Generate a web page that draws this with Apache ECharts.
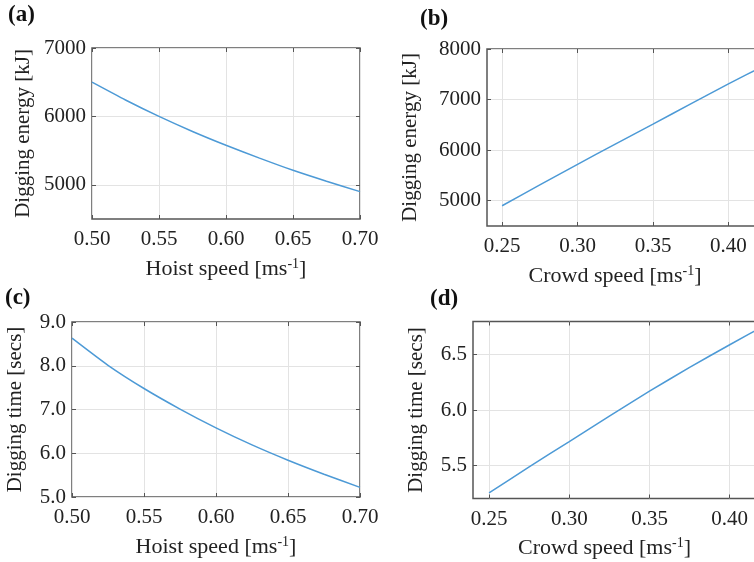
<!DOCTYPE html>
<html>
<head>
<meta charset="utf-8">
<style>
  html, body { margin: 0; padding: 0; background: #fff; }
  #chart { width: 754px; height: 562px; }
</style>
<script src="https://cdn.jsdelivr.net/npm/echarts@6/dist/echarts.min.js"></script>
</head>
<body>
<div id="chart"></div>
<script>
// Hoist-speed sweep (panels a and c)
const hoistSpeed = [0.50, 0.525, 0.55, 0.575, 0.60, 0.625, 0.65, 0.675, 0.70];
const energyVsHoist = [6500, 6240, 6000, 5780, 5578, 5390, 5212, 5052, 4900];
const timeVsHoist = [8.63, 8.01, 7.48, 7.01, 6.58, 6.19, 5.84, 5.52, 5.22];

// Crowd-speed sweep (panels b and d)
const crowdSpeed = [0.25, 0.275, 0.30, 0.325, 0.35, 0.375, 0.40, 0.425];
const energyVsCrowd = [4900, 5313, 5720, 6120, 6515, 6915, 7310, 7690];
const timeVsCrowd = [5.25, 5.485, 5.715, 5.945, 6.17, 6.385, 6.59, 6.79];

// Tick values
const hoistTicks = [0.50, 0.55, 0.60, 0.65, 0.70];
const crowdTicks = [0.25, 0.30, 0.35, 0.40, 0.45];
const energyTicksA = [5000, 6000, 7000];
const energyTicksB = [5000, 6000, 7000, 8000];
const timeTicksC = [5.0, 6.0, 7.0, 8.0, 9.0];
const timeTicksD = [5.5, 6.0, 6.5];

const panelLabels = ['(a)', '(b)', '(c)', '(d)'];
const xTitles = ['Hoist speed [ms', 'Crowd speed [ms', 'Hoist speed [ms', 'Crowd speed [ms'];
const yTitles = ['Digging energy [kJ]', 'Digging energy [kJ]', 'Digging time [secs]', 'Digging time [secs]'];

const FONT = '"Liberation Serif", "Times New Roman", serif';
const TEXT = '#222';
const LINE = '#4d9ad6';
const BOX = '#555';

const chart = echarts.init(document.getElementById('chart'));

// Plot boxes; the two right-hand boxes run past the right edge of the page
const grids = [
  { left: 92, top: 48, width: 268, height: 171 },
  { left: 487, top: 49, width: 332, height: 177 },
  { left: 72, top: 322, width: 288, height: 175 },
  { left: 473, top: 321.5, width: 353, height: 177 }
].map(g => Object.assign({
  show: true, borderColor: BOX, borderWidth: 1.5,
  containLabel: false, outerBoundsMode: 'none'
}, g));

// xShift: extra right padding that moves the x title left of the box centre
const panels = [
  { x: hoistSpeed, y: energyVsHoist, xmin: 0.50, xmax: 0.70, xt: hoistTicks, xd: 2,
    ymin: 4500, ymax: 7000, yt: energyTicksA, yd: 0, yGap: 58, xGap: 38, xShift: 0 },
  { x: crowdSpeed, y: energyVsCrowd, xmin: 0.24, xmax: 0.46, xt: crowdTicks, xd: 2,
    ymin: 4500, ymax: 8000, yt: energyTicksB, yd: 0, yGap: 66, xGap: 38, xShift: 76 },
  { x: hoistSpeed, y: timeVsHoist, xmin: 0.50, xmax: 0.70, xt: hoistTicks, xd: 2,
    ymin: 5.0, ymax: 9.0, yt: timeTicksC, yd: 1, yGap: 46, xGap: 38, xShift: 0 },
  { x: crowdSpeed, y: timeVsCrowd, xmin: 0.24, xmax: 0.46, xt: crowdTicks, xd: 2,
    ymin: 5.2, ymax: 6.8, yt: timeTicksD, yd: 1, yGap: 46, xGap: 38, xShift: 90 }
];

const xAxes = [], yAxes = [], series = [];

panels.forEach((p, i) => {
  const labelStyle = { fontFamily: FONT, fontSize: 21, color: TEXT };
  // bottom x axis with labels and grid lines
  xAxes.push({
    type: 'value', gridIndex: i, position: 'bottom', min: p.xmin, max: p.xmax,
    axisLine: { show: false },
    axisTick: { show: true, inside: true, length: 4, customValues: p.xt, lineStyle: { color: BOX } },
    axisLabel: Object.assign({ margin: 10, customValues: p.xt, hideOverlap: false,
      formatter: v => v.toFixed(p.xd) }, labelStyle),
    splitLine: { show: true, lineStyle: { color: '#e3e3e3', width: 1 } },
    name: '{t|' + xTitles[i] + '}{s|-1}{t|]}',
    nameLocation: 'middle', nameGap: p.xGap,
    nameTextStyle: {
      padding: [0, p.xShift, 0, 0],
      rich: {
        t: { fontFamily: FONT, fontSize: 22, color: TEXT },
        s: { fontFamily: FONT, fontSize: 14, color: TEXT, verticalAlign: 'top', padding: [0, 0, 10, 0] }
      }
    }
  });
  // top x axis: ticks only
  xAxes.push({
    type: 'value', gridIndex: i, position: 'top', min: p.xmin, max: p.xmax,
    axisLine: { show: false },
    axisTick: { show: true, inside: true, length: 4, customValues: p.xt, lineStyle: { color: BOX } },
    axisLabel: { show: false }, splitLine: { show: false }
  });
  // left y axis with labels and grid lines
  yAxes.push({
    type: 'value', gridIndex: i, position: 'left', min: p.ymin, max: p.ymax,
    axisLine: { show: false },
    axisTick: { show: true, inside: true, length: 4, customValues: p.yt, lineStyle: { color: BOX } },
    axisLabel: Object.assign({ margin: 6, customValues: p.yt, hideOverlap: false,
      formatter: v => v.toFixed(p.yd) }, labelStyle),
    splitLine: { show: true, lineStyle: { color: '#e3e3e3', width: 1 } },
    name: yTitles[i], nameLocation: 'middle', nameGap: p.yGap,
    nameTextStyle: { fontFamily: FONT, fontSize: 21, color: TEXT }
  });
  // right y axis: ticks only
  yAxes.push({
    type: 'value', gridIndex: i, position: 'right', min: p.ymin, max: p.ymax,
    axisLine: { show: false },
    axisTick: { show: true, inside: true, length: 4, customValues: p.yt, lineStyle: { color: BOX } },
    axisLabel: { show: false }, splitLine: { show: false }
  });
  series.push({
    type: 'line', xAxisIndex: 2 * i, yAxisIndex: 2 * i,
    data: p.x.map((v, k) => [v, p.y[k]]),
    smooth: 0.2, showSymbol: false, symbol: 'none',
    lineStyle: { color: LINE, width: 1.5 }, silent: true
  });
});

const labelPos = [[8, 4], [420, 8], [5, 287], [430, 288]];

chart.setOption({
  animation: false,
  backgroundColor: '#fff',
  title: panelLabels.map((t, i) => ({
    text: t, left: labelPos[i][0], top: labelPos[i][1], padding: 0,
    textStyle: { fontFamily: FONT, fontSize: 23, fontWeight: 'bold', color: '#111' }
  })),
  grid: grids,
  xAxis: xAxes,
  yAxis: yAxes,
  series: series
});
</script>
</body>
</html>
